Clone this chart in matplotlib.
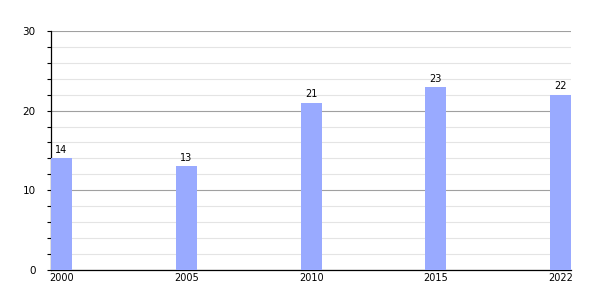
import matplotlib
matplotlib.use("Agg")
import matplotlib.pyplot as plt
from matplotlib.ticker import MultipleLocator

years = ["2000", "2005", "2010", "2015", "2022"]
values = [14, 13, 21, 23, 22]

BAR_COLOR = "#99aaff"

fig = plt.figure(figsize=(6, 3), dpi=100)
ax = fig.add_axes([0.085, 0.1, 0.867, 0.797])

x = list(range(len(years)))
bw = 0.168
bars = ax.bar(x, values, width=bw, color=BAR_COLOR, zorder=3)

for xi, v in zip(x, values):
    ax.text(xi, v + 0.4, str(v), ha="center", va="bottom", fontsize=7, color="#000000")

ax.set_xlim(-bw / 2, len(years) - 1 + bw / 2)
ax.set_ylim(0, 30)
ax.set_xticks(x)
ax.set_xticklabels(years, fontsize=7)
ax.tick_params(axis="x", length=0, pad=2)

ax.yaxis.set_major_locator(MultipleLocator(10))
ax.yaxis.set_minor_locator(MultipleLocator(2))
ax.tick_params(axis="y", which="major", length=3, width=0.8, labelsize=7.5, pad=8)
ax.tick_params(axis="y", which="minor", length=3, width=0.8)

ax.grid(axis="y", which="major", color="#a0a0a0", linewidth=0.8, zorder=0)
ax.grid(axis="y", which="minor", color="#e4e4e4", linewidth=0.8, zorder=0)
ax.set_axisbelow(True)

for s in ["top", "right"]:
    ax.spines[s].set_visible(False)
ax.spines["left"].set_linewidth(0.9)
ax.spines["bottom"].set_linewidth(0.9)

fig.savefig("out.png", dpi=100)
